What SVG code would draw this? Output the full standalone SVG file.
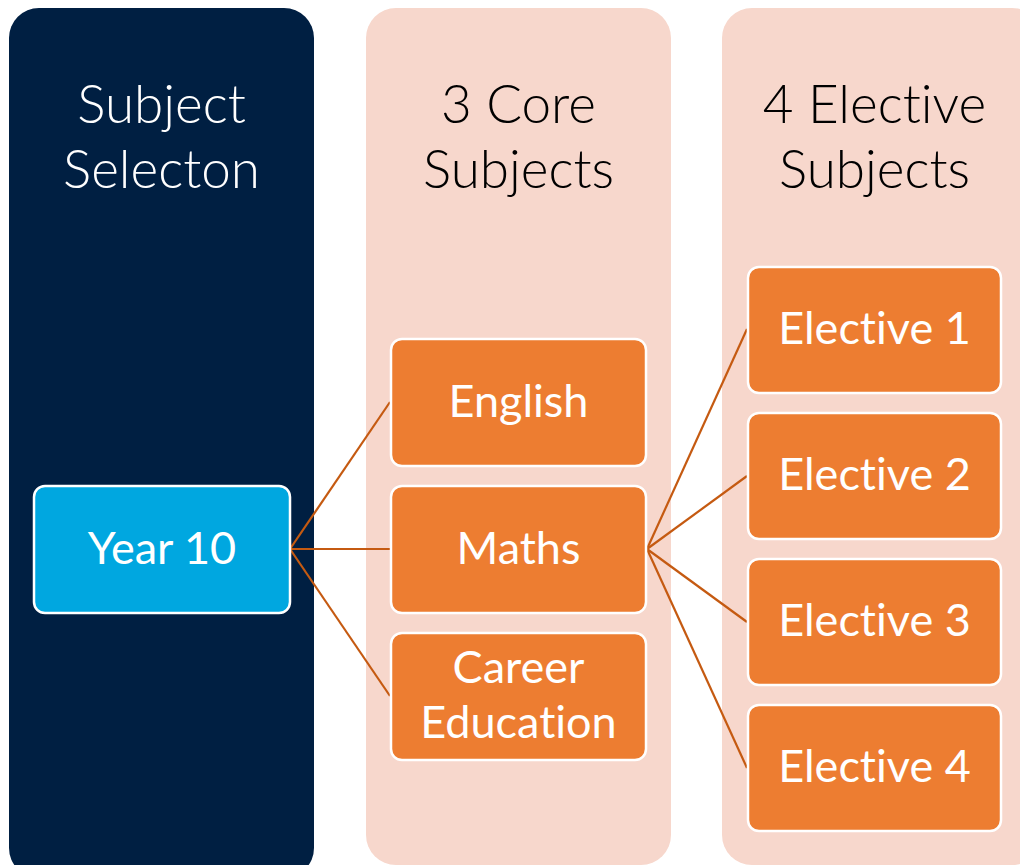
<svg xmlns="http://www.w3.org/2000/svg" width="1020" height="865" viewBox="0 0 1020 865">
<style>
.col-dark{fill:#001F42}
.col-light{fill:#F7D7CC}
text{font-variant-ligatures:none;font-feature-settings:"liga" 0}
.hdr{font-family:Lato,"Open Sans",sans-serif;font-size:53px;font-weight:300;text-anchor:middle}
.box{stroke:#FFFFFF;stroke-width:2.5}
.orange{fill:#ED7D31}
.blue{fill:#00A7E0}
.lbl{font-family:Lato,"Open Sans",sans-serif;font-size:45px;fill:#FFFFFF;text-anchor:middle}
.conn{stroke:#C55A11;stroke-width:2.2;fill:none}
</style>
<rect width="1020" height="865" fill="#FFFFFF"/>
<g id="col-selection">
<rect class="col-dark" x="9" y="8" width="305" height="870" rx="30"/>
<text class="hdr" x="161.5" y="123" fill="#FFFFFF">Subject</text>
<text class="hdr" x="161.5" y="188" fill="#FFFFFF">Selecton</text>
</g>
<g id="col-core">
<rect class="col-light" x="366" y="8" width="305" height="857" rx="30"/>
<text class="hdr" x="518.5" y="123" fill="#000000">3 Core</text>
<text class="hdr" x="518.5" y="188" fill="#000000">Subjects</text>
</g>
<g id="col-elective">
<rect class="col-light" x="722" y="8" width="320" height="857" rx="30"/>
<text class="hdr" x="874.5" y="123" fill="#000000">4 Elective</text>
<text class="hdr" x="874.5" y="188" fill="#000000">Subjects</text>
</g>
<g id="connectors">
<line class="conn" x1="290" y1="549" x2="390" y2="402"/>
<line class="conn" x1="290" y1="549" x2="390" y2="549"/>
<line class="conn" x1="290" y1="549" x2="390" y2="696"/>
<line class="conn" x1="647" y1="549" x2="747" y2="329"/>
<line class="conn" x1="647" y1="549" x2="747" y2="476"/>
<line class="conn" x1="647" y1="549" x2="747" y2="622"/>
<line class="conn" x1="647" y1="549" x2="747" y2="768"/>
</g>
<g id="year10">
<rect class="box blue" x="34" y="486" width="256" height="127" rx="11"/>
<text class="lbl" x="162" y="564">Year 10</text>
</g>
<g id="english">
<rect class="box orange" x="391" y="339" width="255" height="127" rx="11"/>
<text class="lbl" x="518.5" y="417">English</text>
</g>
<g id="maths">
<rect class="box orange" x="391" y="486" width="255" height="127" rx="11"/>
<text class="lbl" x="518.5" y="564">Maths</text>
</g>
<g id="career">
<rect class="box orange" x="391" y="633" width="255" height="127" rx="11"/>
<text class="lbl" x="518.5" y="683">Career</text>
<text class="lbl" x="518.5" y="738">Education</text>
</g>
<g id="elective1">
<rect class="box orange" x="748" y="267" width="253" height="126" rx="11"/>
<text class="lbl" x="874.5" y="344">Elective 1</text>
</g>
<g id="elective2">
<rect class="box orange" x="748" y="413" width="253" height="126" rx="11"/>
<text class="lbl" x="874.5" y="490">Elective 2</text>
</g>
<g id="elective3">
<rect class="box orange" x="748" y="559" width="253" height="126" rx="11"/>
<text class="lbl" x="874.5" y="636">Elective 3</text>
</g>
<g id="elective4">
<rect class="box orange" x="748" y="705" width="253" height="126" rx="11"/>
<text class="lbl" x="874.5" y="782">Elective 4</text>
</g>
</svg>
